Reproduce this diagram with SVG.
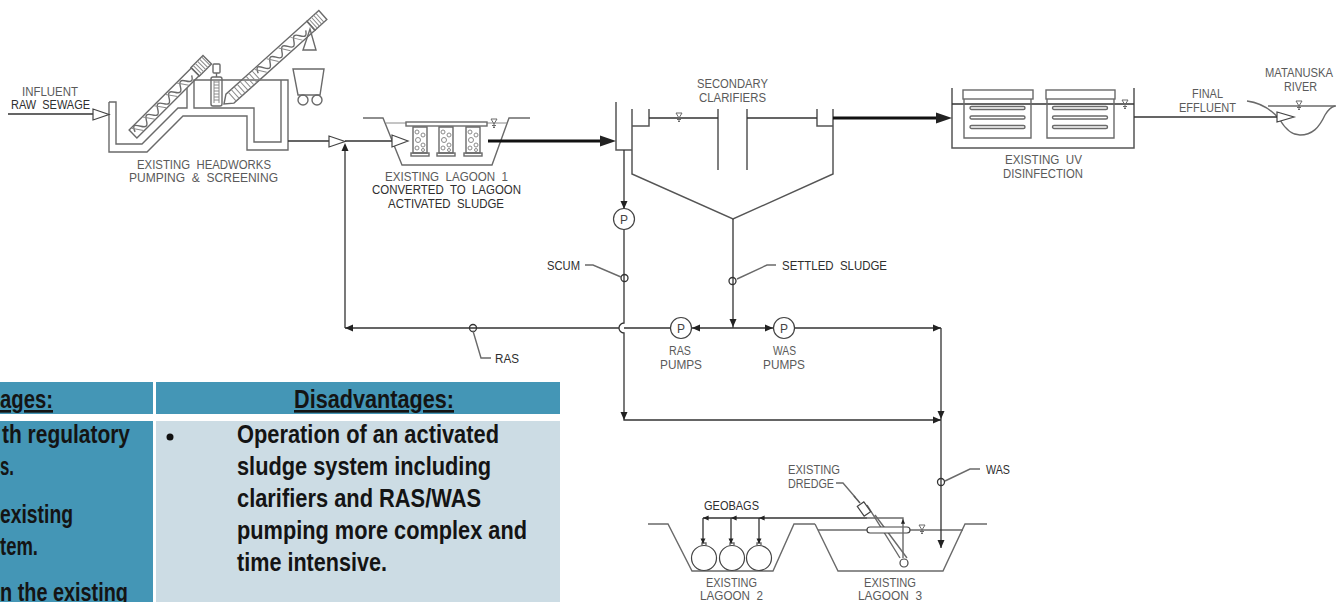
<svg xmlns="http://www.w3.org/2000/svg" width="1336" height="602" viewBox="0 0 1336 602">
<style>
.s{fill:none;stroke:#6a6a6a;stroke-width:1.4}
.t{fill:none;stroke:#8a8a8a;stroke-width:1}
.l{fill:none;stroke:#333;stroke-width:1.3}
.g{fill:none;stroke:#555;stroke-width:1.5}
.k{fill:none;stroke:#111;stroke-width:3.2}
.w{fill:#fff;stroke:#444;stroke-width:1.2}
.ah{fill:#222;stroke:none}
text{font-family:"Liberation Sans",Arial,sans-serif;white-space:pre}
.c{font-size:12px;fill:#5a5a5a}
.d{font-size:12px;fill:#2e2e2e}
.x{font-size:26.500px;font-weight:700;fill:#141414}
.p{font-size:12px;fill:#444;text-anchor:middle}
</style>
<defs>
<g id="wl" class="s"><path d="M-3,0H3L0,5Z" stroke-width="1"/><path d="M-2,6.500H2M-1,8.500H1" stroke-width="1"/><path d="M0,5V9" stroke-width="1"/></g>
<path id="d" d="M0,0l-8,-3.500v7z"/>
<g id="mod"><path class="s" d="M0,0h14v26h-14z" fill="#fff"/><circle class="t" cx="4" cy="5" r="2"/><circle class="t" cx="10" cy="8" r="2"/><circle class="t" cx="5" cy="13" r="2.500"/><circle class="t" cx="10" cy="18" r="2"/><circle class="t" cx="4" cy="21" r="2"/><circle class="t" cx="10" cy="23" r="1.500"/><rect class="s" x="-2" y="26" width="18" height="3"/></g>
<g id="lamps" class="s"><rect x="0" y="-1.500" width="55" height="3" rx="1.500"/><rect x="0" y="8" width="55" height="3" rx="1.500"/><rect x="0" y="17.500" width="55" height="3" rx="1.500"/></g>
</defs>

<g id="table">
<rect x="0" y="382" width="153" height="32" fill="#4496b6"/>
<rect x="156" y="382" width="404" height="32" fill="#4496b6"/>
<rect x="0" y="421" width="153" height="181" fill="#4496b6"/>
<rect x="156" y="421" width="404" height="181" fill="#ccdce4"/>
<text class="x" x="0" y="408" textLength="53" lengthAdjust="spacingAndGlyphs" text-decoration="underline">ages:</text>
<text class="x" x="294" y="408" textLength="160" lengthAdjust="spacingAndGlyphs" text-decoration="underline">Disadvantages:</text>
<text class="x" x="2" y="443" textLength="128" lengthAdjust="spacingAndGlyphs">th regulatory</text>
<text class="x" x="0" y="475" textLength="14" lengthAdjust="spacingAndGlyphs">s.</text>
<text class="x" x="0" y="523" textLength="73" lengthAdjust="spacingAndGlyphs">existing</text>
<text class="x" x="0" y="555" textLength="38" lengthAdjust="spacingAndGlyphs">tem.</text>
<text class="x" x="0" y="601" textLength="128" lengthAdjust="spacingAndGlyphs">n the existing</text>
<circle cx="170" cy="437" r="3.500" fill="#111"/>
<text class="x" x="237" y="443" textLength="262" lengthAdjust="spacingAndGlyphs">Operation of an activated</text>
<text class="x" x="237" y="475" textLength="254" lengthAdjust="spacingAndGlyphs">sludge system including</text>
<text class="x" x="237" y="507" textLength="244" lengthAdjust="spacingAndGlyphs">clarifiers and RAS/WAS</text>
<text class="x" x="237" y="539" textLength="290" lengthAdjust="spacingAndGlyphs">pumping more complex and</text>
<text class="x" x="237" y="571" textLength="150" lengthAdjust="spacingAndGlyphs">time intensive.</text>
</g>

<g id="headworks">
<path class="s" d="M109,102V152H147L183,116H247V150H288V80H194V108H254V142H281V80M109,102H116V144H142L178,108H187V88"/>
<g transform="translate(133,134) rotate(-45)">
<path class="s" d="M0,-5.500H88V5.500H0Z" fill="#fff"/>
<path class="s" d="M3,0C6,-8 8,-5 11,0S16,5 19,0S24,-5 27,0S32,5 35,0S40,-5 43,0S48,5 51,0S56,-5 59,0S64,5 67,0S72,-5 75,0S80,5 83,0"/>
<path class="t" d="M3,-5L10,5M19,-5L26,5M35,-5L42,5M51,-5L58,5M67,-5L74,5"/>
<rect class="s" x="88" y="-6" width="17" height="12" fill="#fff"/>
<path class="t" d="M91,-6V6M94,-6V6M97,-6V6M100,-6V6M103,-6V6"/>
</g>
<g transform="translate(224,104) rotate(-42)">
<path class="s" d="M0,0L8,-6H117V6H8Z" fill="#fff"/>
<path class="t" d="M11,-6V6M15,-6V6M19,-6V6M23,-6V6M27,-6V6M31,-6V6M35,-6V6M39,-6V6M43,-6V6"/>
<path class="s" d="M46,0C49,-8 51,-5 54,0S59,5 62,0S67,-5 70,0S75,5 78,0S83,-5 86,0S91,5 94,0S99,-5 102,0S107,5 110,0"/>
<path class="t" d="M46,-5L53,5M62,-5L69,5M78,-5L85,5M94,-5L101,5"/>
<rect class="s" x="117" y="-6" width="16" height="12" fill="#fff"/>
<path class="t" d="M120,-6V6M123,-6V6M126,-6V6M129,-6V6"/>
</g>
<path class="s" d="M303,50H316L310,29Z" fill="#fff"/>
<path class="s" d="M293,69H324L320,95H298Z"/>
<circle class="s" cx="303" cy="100" r="5"/><circle class="s" cx="317" cy="100" r="5"/>
<rect class="s" x="211" y="77" width="11" height="29" rx="2" fill="#fff"/>
<path class="t" d="M214,80V103M219,80V103M214,82H219M214,85H219M214,88H219M214,91H219M214,94H219M214,97H219M214,100H219"/>
<rect class="s" x="213" y="64" width="7" height="9" rx="1"/><path class="s" d="M216.500,73V77"/>
<text class="c" x="137" y="169" textLength="134" lengthAdjust="spacingAndGlyphs">EXISTING  HEADWORKS</text>
<text class="c" x="129" y="182" textLength="149" lengthAdjust="spacingAndGlyphs">PUMPING  &amp;  SCREENING</text>
</g>

<g id="lagoon1">
<path class="s" d="M363,118H383L402,165H492L509,118H530"/>
<path class="t" d="M386,123H406M487,123H507"/>
<rect class="s" x="406" y="122" width="81" height="4" fill="#ddd"/>
<use href="#mod" x="413" y="127"/><use href="#mod" x="439" y="127"/><use href="#mod" x="466" y="127"/>
<use href="#wl" x="494" y="119"/>
<text class="c" x="385" y="181" textLength="123" lengthAdjust="spacingAndGlyphs">EXISTING  LAGOON  1</text>
<text class="d" x="372" y="194" textLength="149" lengthAdjust="spacingAndGlyphs">CONVERTED  TO  LAGOON</text>
<text class="d" x="388" y="208" textLength="116" lengthAdjust="spacingAndGlyphs">ACTIVATED  SLUDGE</text>
</g>

<g id="clarifiers">
<path class="g" d="M616,102V150H632M632,109V174L733,219L833,174V109M632,126H649V109M817,109V126H833M718,109V170M747,109V170"/>
<path class="l" d="M649,118H718M747,118H817"/>
<use href="#wl" x="679" y="113"/>
<text class="c" x="697" y="88" textLength="71" lengthAdjust="spacingAndGlyphs">SECONDARY</text>
<text class="c" x="699" y="102" textLength="67" lengthAdjust="spacingAndGlyphs">CLARIFIERS</text>
</g>

<g id="uv">
<path class="g" d="M952,88V148H1134V88"/>
<path class="l" d="M952,104H1134"/>
<path class="s" d="M964,99V138H1031V99M1047,99V138H1114V99"/>
<rect class="s" x="963" y="90" width="70" height="9"/><rect class="s" x="1046" y="90" width="69" height="9"/>
<use href="#lamps" x="970" y="108"/><use href="#lamps" x="1052.500" y="108"/>
<use href="#wl" x="1125" y="100"/>
<text class="c" x="1005" y="164" textLength="77" lengthAdjust="spacingAndGlyphs">EXISTING  UV</text>
<text class="c" x="1003" y="178" textLength="80" lengthAdjust="spacingAndGlyphs">DISINFECTION</text>
</g>

<g id="river">
<path class="s" d="M1247,101C1262,103 1272,110 1280,120C1286,130 1292,135 1300,135C1312,135 1319,128 1325,115C1328,110 1331,107 1335,106"/>
<path class="s" d="M1268,106H1336"/>
<use href="#wl" x="1299" y="101"/>
<text class="c" x="1265" y="77" textLength="68" lengthAdjust="spacingAndGlyphs">MATANUSKA</text>
<text class="c" x="1284" y="91" textLength="33" lengthAdjust="spacingAndGlyphs">RIVER</text>
</g>

<g id="lagoon2">
<path class="s" d="M648,524H668L692,571H773L794,524H815"/>
<circle class="w" cx="704" cy="558" r="12.500"/><circle class="w" cx="732" cy="558" r="12.500"/><circle class="w" cx="759" cy="558" r="12.500"/>
<path class="s" d="M702,545V543H706V545M730,545V543H734V545M757,545V543H761V545"/>
<text class="d" x="704" y="510" textLength="55" lengthAdjust="spacingAndGlyphs">GEOBAGS</text>
<text class="c" x="706" y="587" textLength="51" lengthAdjust="spacingAndGlyphs">EXISTING</text>
<text class="c" x="700" y="600" textLength="63" lengthAdjust="spacingAndGlyphs">LAGOON  2</text>
</g>

<g id="lagoon3">
<path class="s" d="M815,524L838,571H943L965,524H987"/>
<path class="s" d="M818,530H963"/>
<path class="s" d="M867,505L900,558M875,515L907,558"/>
<rect class="w" x="860" y="503" width="8" height="12" transform="rotate(-35 864 509)" fill="#ddd"/>
<rect class="w" x="867" y="527" width="43" height="6" rx="3"/>
<circle class="w" cx="904" cy="563" r="4"/>
<use href="#wl" x="922" y="525"/>
<text class="c" x="864" y="587" textLength="52" lengthAdjust="spacingAndGlyphs">EXISTING</text>
<text class="c" x="858" y="600" textLength="64" lengthAdjust="spacingAndGlyphs">LAGOON  3</text>
<text class="c" x="788" y="474" textLength="52" lengthAdjust="spacingAndGlyphs">EXISTING</text>
<text class="c" x="788" y="488" textLength="46" lengthAdjust="spacingAndGlyphs">DREDGE</text>
</g>

<g id="pumps">
<circle class="w" cx="624" cy="219" r="10.500"/><text class="p" x="624" y="223.500">P</text>
<circle class="w" cx="681" cy="328" r="10.500"/><text class="p" x="681" y="332.500">P</text>
<circle class="w" cx="784" cy="328" r="10.500"/><text class="p" x="784" y="332.500">P</text>
<text class="c" x="669" y="355" textLength="22" lengthAdjust="spacingAndGlyphs">RAS</text>
<text class="c" x="660" y="369" textLength="42" lengthAdjust="spacingAndGlyphs">PUMPS</text>
<text class="c" x="773" y="355" textLength="23" lengthAdjust="spacingAndGlyphs">WAS</text>
<text class="c" x="763" y="369" textLength="42" lengthAdjust="spacingAndGlyphs">PUMPS</text>
</g>

<g id="labels">
<text class="c" x="22" y="96" textLength="56" lengthAdjust="spacingAndGlyphs">INFLUENT</text>
<text class="d" x="11" y="109" textLength="79" lengthAdjust="spacingAndGlyphs">RAW  SEWAGE</text>
<text class="c" x="1192" y="98" textLength="31" lengthAdjust="spacingAndGlyphs">FINAL</text>
<text class="c" x="1179" y="112" textLength="57" lengthAdjust="spacingAndGlyphs">EFFLUENT</text>
<text class="d" x="547" y="270" textLength="33" lengthAdjust="spacingAndGlyphs">SCUM</text>
<text class="d" x="782" y="270" textLength="105" lengthAdjust="spacingAndGlyphs">SETTLED  SLUDGE</text>
<text class="d" x="495" y="363" textLength="24" lengthAdjust="spacingAndGlyphs">RAS</text>
<text class="d" x="986" y="474" textLength="24" lengthAdjust="spacingAndGlyphs">WAS</text>
</g>

<g id="connectors">
<path class="l" d="M8,114H93M288,141H329M345,141H392"/>
<path class="w" d="M93,109V120L109,114.500ZM329,136V147L345,141.500ZM392,135V147L408,141ZM1277,112V122L1294,117Z"/>
<path class="l" d="M345,328V146M345,328H619.500M624,328H670.500M691.500,328H773.500M794.500,328H941M624,150V208M624,229.500V323A5,5 0 0 0 624,333V420H941M733,219V328M941,328V548M1134,117H1277"/>
<path class="k" d="M488,141H602"/><path class="k" d="M833,118H940"/>
<path class="ah" d="M600,135.500L616,141L600,146.500ZM936,112.500L952,118L936,123.500Z"/>
<use class="ah" href="#d" transform="translate(345,143) rotate(-90)"/>
<use class="ah" href="#d" transform="translate(624,209) rotate(90)"/>
<use class="ah" href="#d" transform="translate(692,328) rotate(180)"/>
<use class="ah" href="#d" transform="translate(773,328)"/>
<use class="ah" href="#d" transform="translate(733,327) rotate(90)"/>
<use class="ah" href="#d" transform="translate(941,328)"/>
<use class="ah" href="#d" transform="translate(624,420) rotate(90)"/>
<use class="ah" href="#d" transform="translate(941,420)"/>
<use class="ah" href="#d" transform="translate(941,419) rotate(90)"/>
<use class="ah" href="#d" transform="translate(941,548) rotate(90)"/>
<use class="ah" href="#d" transform="translate(345,328) rotate(180)"/>
<circle class="l" cx="473" cy="328" r="3.500"/><circle class="l" cx="624.500" cy="278" r="3.500"/><circle class="l" cx="732.500" cy="281" r="3.500"/><circle class="l" cx="941" cy="482" r="3.500"/>
<path class="s" d="M473,331L481,358H491M585,265H593L621,277M737,279L767,265H776M945,481L970,469H980M836,483H843L855,497"/>
<path class="g" d="M854,496L860,503" stroke="#222" stroke-width="3"/>
<path class="l" d="M867,518H703M703,518V543M731,518V543M759,518V543"/>
<path class="s" d="M867,518H903V558"/>
<use class="ah" href="#d" transform="translate(703,518) rotate(180) scale(.7)"/>
<use class="ah" href="#d" transform="translate(731,518) rotate(180) scale(.7)"/>
<use class="ah" href="#d" transform="translate(759,518) rotate(180) scale(.7)"/>
<use class="ah" href="#d" transform="translate(703,544) rotate(90) scale(.7)"/>
<use class="ah" href="#d" transform="translate(731,544) rotate(90) scale(.7)"/>
<use class="ah" href="#d" transform="translate(759,544) rotate(90) scale(.7)"/>
<use class="ah" href="#d" transform="translate(903,519) rotate(-90) scale(.6)"/>
</g>
</svg>
